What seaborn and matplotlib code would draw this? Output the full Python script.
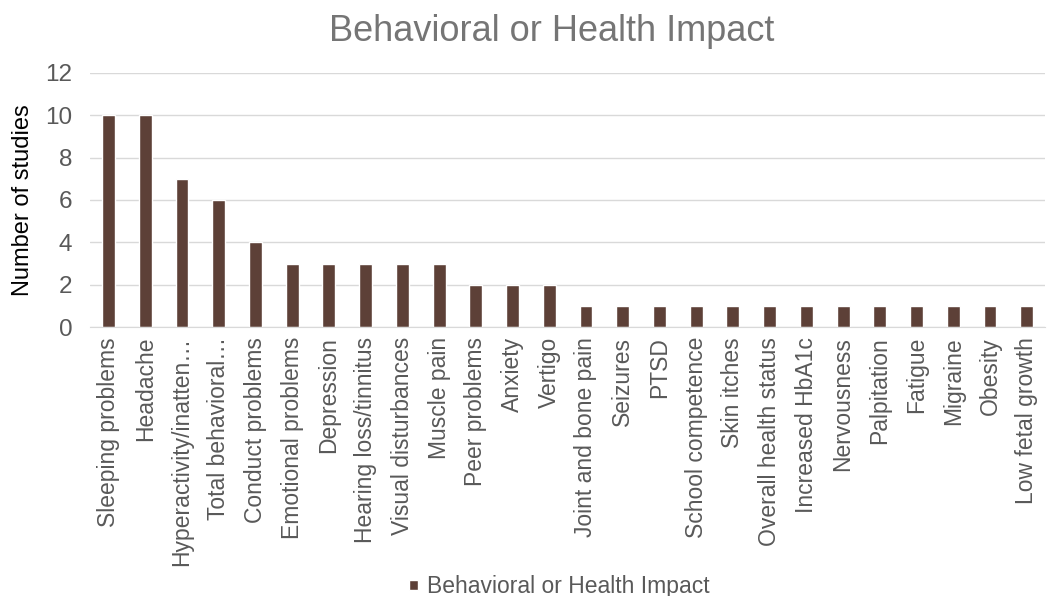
import matplotlib
matplotlib.use("Agg")
import matplotlib.pyplot as plt
import seaborn as sns
import pandas as pd
import numpy as np

impacts = ["Sleeping problems", "Headache", "Hyperactivity/inatten\u2026",
           "Total behavioral\u2026", "Conduct problems", "Emotional problems",
           "Depression", "Hearing loss/tinnitus", "Visual disturbances",
           "Muscle pain", "Peer problems", "Anxiety", "Vertigo",
           "Joint and bone pain", "Seizures", "PTSD", "School competence",
           "Skin itches", "Overall health status", "Increased HbA1c",
           "Nervousness", "Palpitation", "Fatigue", "Migraine", "Obesity",
           "Low fetal growth"]
n_studies = [10, 10, 7, 6, 4, 3, 3, 3, 3, 3, 2, 2, 2,
             1, 1, 1, 1, 1, 1, 1, 1, 1, 1, 1, 1, 1]

df = pd.DataFrame({"Impact": impacts, "Count": n_studies})

sns.set_style("white")
plt.rcParams["font.family"] = ["Liberation Sans", "DejaVu Sans"]

grey = "#595959"
bar_col = "#5D4037"

fig = plt.figure(figsize=(10.61, 5.96), dpi=100)
ax = fig.add_axes([0.085, 0.451, 0.9, 0.427])

sns.barplot(data=df, x="Impact", y="Count", color=bar_col, width=0.35,
            saturation=1, ax=ax, label="Behavioral or Health Impact")

ax.set_ylim(0, 12)
ax.set_yticks(range(0, 13, 2))
ax.set_xlim(-0.5, len(impacts) - 0.5)
ax.yaxis.grid(True, color="#D9D9D9", linewidth=1)
ax.set_axisbelow(True)

for s in ["top", "right", "left"]:
    ax.spines[s].set_visible(False)
ax.spines["bottom"].set_color("#D9D9D9")

ax.tick_params(axis="x", length=0, labelsize=16.5, labelcolor=grey, rotation=90, pad=7)
ax.tick_params(axis="y", length=0, labelsize=17.5, labelcolor=grey, pad=13)
ax.set_xticks(np.arange(-0.5, len(impacts), 1), minor=True)
ax.tick_params(axis="x", which="minor", length=5, color="#D9D9D9")

ax.set_xlabel("")
ax.set_ylabel("Number of studies", fontsize=17, color="black", labelpad=8)
fig.text(0.52, 0.947, "Behavioral or Health Impact", fontsize=26,
         color="#757575", ha="center", va="center")

ax.legend(loc="center", bbox_to_anchor=(0.527, 0.016),
          bbox_transform=fig.transFigure, frameon=False,
          fontsize=16.5, labelcolor=grey, handlelength=0.4, handleheight=0.3,
          handletextpad=0.4, borderpad=0)

fig.savefig("out.png", dpi=100)
